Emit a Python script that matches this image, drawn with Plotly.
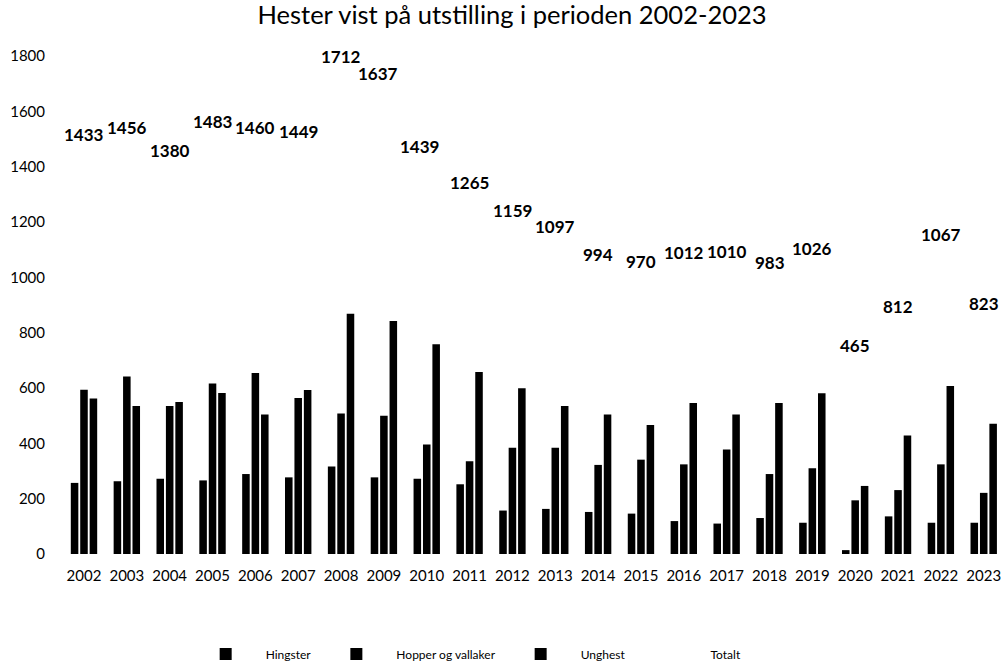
import plotly.graph_objects as go

years = [str(y) for y in range(2002, 2024)]
hingster = [257, 263, 272, 266, 289, 277, 316, 277, 272, 252, 157, 163, 152, 146, 119, 110, 130, 113, 14, 136, 113, 113]
hopper = [594, 642, 535, 616, 654, 564, 508, 500, 396, 335, 384, 384, 322, 341, 324, 378, 289, 310, 194, 231, 324, 221]
unghest = [562, 535, 549, 582, 504, 593, 868, 842, 758, 658, 599, 535, 504, 466, 546, 504, 546, 581, 246, 428, 607, 471]
totalt = [1433, 1456, 1380, 1483, 1460, 1449, 1712, 1637, 1439, 1265, 1159, 1097, 994, 970, 1012, 1010, 983, 1026, 465, 812, 1067, 823]

# label offsets (pixels) for the Totalt value labels
label_dy = [23, 24, 22, 22, 23, 22, 24, 28, 9, 22, 23, 24, 24, 24, 22, 23, 20, 22, 80, 23, 24, 23]
label_dx = [0, 0, 0, 0, 0, 0, 0, -6, -7, 0, 0, 0, 0, 0, 0, 0, 0, 0, 0, 0, 0, 0]

y_ticks = [0, 200, 400, 600, 800, 1000, 1200, 1400, 1600, 1800]

FONT = "Lato"

fig = go.Figure()
for name, vals in [("Hingster", hingster), ("Hopper og vallaker", hopper), ("Unghest", unghest)]:
    fig.add_trace(go.Bar(x=years, y=vals, name=name, marker=dict(color="black", line=dict(width=0))))

fig.add_trace(go.Scatter(x=years, y=totalt, name="Totalt", mode="lines",
                         line=dict(color="rgba(0,0,0,0)", width=2), hoverinfo="skip"))

for i, (v, dy, dx) in enumerate(zip(totalt, label_dy, label_dx)):
    fig.add_annotation(x=i, y=v, text=str(v), showarrow=False, xref="x", yref="y",
                       yshift=dy, xshift=dx, yanchor="middle", xanchor="center",
                       font=dict(family=FONT, size=17, color="black", weight="bold"))

fig.update_layout(
    width=1003, height=662,
    paper_bgcolor="white", plot_bgcolor="white",
    margin=dict(l=63, r=0, t=56, b=108, autoexpand=False),
    barmode="group", bargap=0.34, bargroupgap=0.2,
    title=dict(text="Hester vist på utstilling i perioden 2002-2023", x=0.5105, xanchor="center",
               y=0.9766, yanchor="middle", yref="container",
               font=dict(family=FONT, size=25.5, color="black")),
    font=dict(family=FONT, color="black"),
    showlegend=True,
    legend=dict(orientation="h", x=0.1305, xanchor="left", y=-0.2008, yanchor="middle",
                itemwidth=70,
                font=dict(family=FONT, size=12, color="black"), traceorder="normal"),
)
fig.update_xaxes(type="category", range=[-0.49, 21.45], showgrid=False, zeroline=False,
                 showline=False, ticks="outside", ticklen=8, tickcolor="rgba(0,0,0,0)",
                 automargin=False,
                 tickfont=dict(family=FONT, size=15, color="black"))
fig.update_yaxes(range=[0, 1800], tickvals=y_ticks, showgrid=False, zeroline=False,
                 showline=False, ticks="outside", ticklen=14, tickcolor="rgba(0,0,0,0)",
                 automargin=False,
                 tickfont=dict(family=FONT, size=15, color="black"))

fig.write_html("out.html", config={"displayModeBar": False},
               post_script="document.body.style.margin='0px'; document.body.style.padding='0px';")
